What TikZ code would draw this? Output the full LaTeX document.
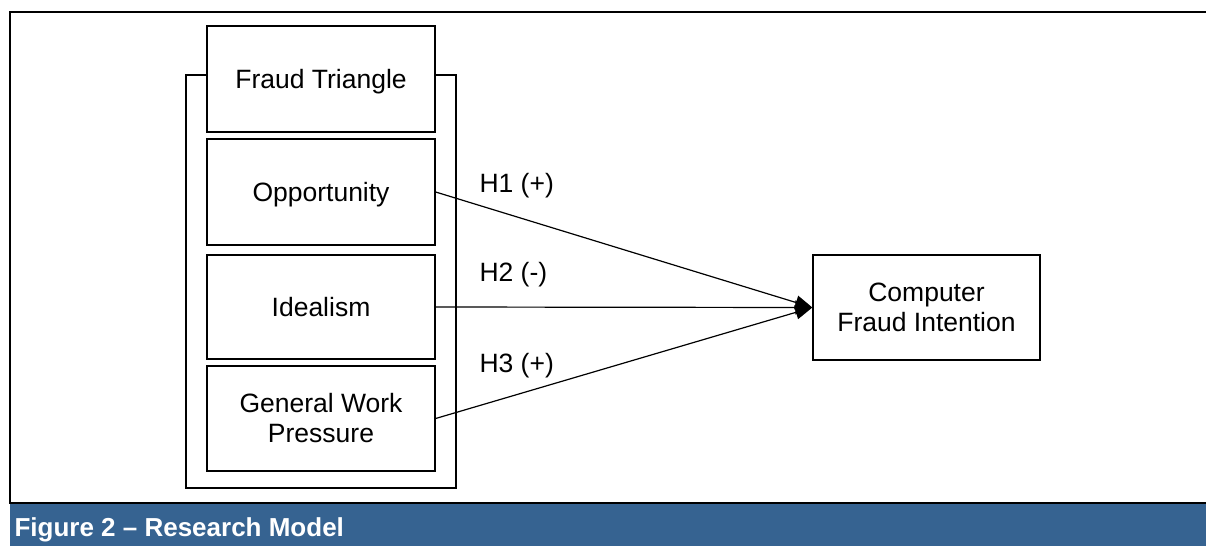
\documentclass[tikz,border=0pt]{standalone}
\usepackage{fontspec}
\setmainfont{Liberation Sans}
\usetikzlibrary{arrows.meta,positioning}
\definecolor{captionblue}{RGB}{54,99,145}

\begin{document}
\begin{tikzpicture}[x=1pt,y=-1pt,
   every node/.style={font=\fontsize{26.5}{30}\selectfont},
   factor/.style={draw,line width=1.3pt,minimum width=228pt,align=center,inner sep=0pt},
   oneline/.style={factor,text depth=0pt},
   hyp/.style={anchor=base west},
   hypline/.style={line width=1.2pt,-{Triangle[length=17pt,width=14pt]}}]
\useasboundingbox (0,0) rectangle (1206,546);
% frame and caption band
\fill[captionblue] (10,503) rectangle (1206,546);
\draw[line width=2.4pt] (1206,12) -- (10,12) -- (10,503) -- (1206,503);
\node[anchor=base west,text=white,font=\fontsize{26}{30}\selectfont\bfseries] (caption) at (11,536) {Figure 2 -- Research Model};
% bracket round the constructs
\draw[line width=1.3pt] (207,75) -- (186,75) -- (186,488) -- (456,488) -- (456,75) -- (435,75);
% constructs
\node[oneline,minimum height=106pt] (triangle) at (321,79) {Fraud Triangle};
\node[oneline,minimum height=106pt] (opportunity) at (321,192) {Opportunity};
\node[oneline,minimum height=104pt] (idealism) at (321,307) {Idealism};
\node[factor,minimum height=105pt] (pressure) at (321,418.5) {General Work\\Pressure};
\node[factor,minimum width=227pt,minimum height=105pt] (intention) at (926.5,307.5) {Computer\\Fraud Intention};
% hypotheses
\draw[hypline] (opportunity.east) -- (intention.west);
\draw[hypline] (idealism.east) -- (intention.west);
\draw[hypline] (pressure.east) -- (intention.west);
\node[hyp] (h1) at (476,192) {H1 (+)};
\node[hyp] (h2) at (476,281) {H2 (-)};
\node[hyp] (h3) at (476,372) {H3 (+)};
\end{tikzpicture}
\end{document}
